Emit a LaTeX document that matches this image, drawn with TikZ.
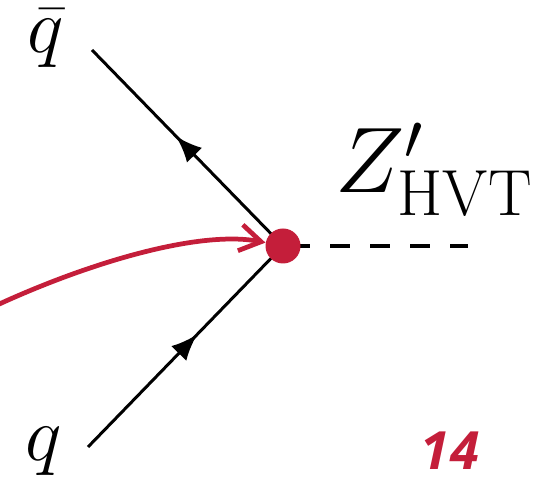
\RequirePackage{fix-cm}
\documentclass[tikz,border=0pt]{standalone}
\usepackage{fontspec}
\newfontfamily\pagefont{Open Sans}
\usetikzlibrary{arrows.meta,decorations.markings}
\definecolor{hvtred}{HTML}{C41E3A}
\tikzset{fermion/.style={line width=1.7pt,postaction={decorate},decoration={markings,mark=at position .56 with {\arrow{Latex[length=15pt,width=12pt]}}}}}
\begin{document}
\begin{tikzpicture}[every node/.style={inner sep=0pt}]
\useasboundingbox (0,0) rectangle (10.96,9.62);
\coordinate (v) at (5.66,4.70);\coordinate (qbarend) at (1.84,8.62);\coordinate (qend) at (1.76,0.68);\coordinate (zend) at (9.36,4.70);\coordinate (src) at (-.1,3.50);
\draw[line width=2.2pt,dash pattern=on 11.4pt off 11.4pt,dash phase=18.8pt] (v) -- (zend);
\draw[fermion] (v) -- (qbarend);
\draw[fermion] (qend) -- (v);
\node[circle,fill=hvtred,minimum size=.7cm] (dot) at (v){};
\draw[hvtred,line width=2.7pt,-{Straight Barb[length=12pt,width=15pt]}] (src) .. controls (1.8,4.38) and (4.0,5.02) .. (dot);
\node[font=\fontsize{44}{52}\selectfont] (qbar) at (.92,8.86){$\bar q$};
\node[font=\fontsize{44}{52}\selectfont] (q) at (.88,.60){$q$};
\node[font=\fontsize{53}{64}\selectfont] (zhvt) at (8.68,6.22){$Z'_{\mathrm{HVT}}$};
\node[font=\pagefont\bfseries\itshape\fontsize{30}{36}\selectfont,text=hvtred] (page) at (9.0,.6){14};
\end{tikzpicture}
\end{document}
